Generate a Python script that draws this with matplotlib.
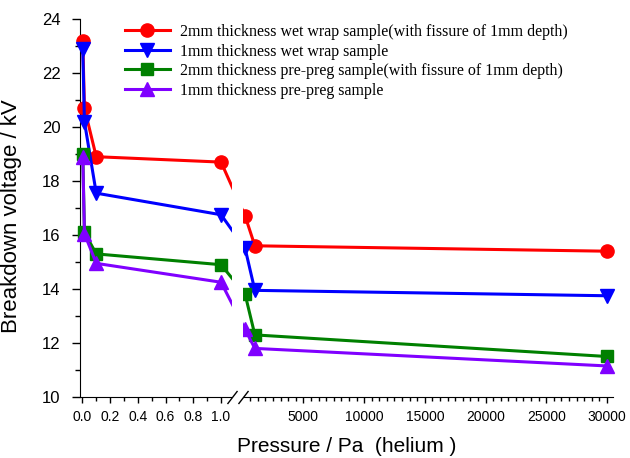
import numpy as np
import matplotlib
matplotlib.use('Agg')
import matplotlib.pyplot as plt
from matplotlib.patches import Rectangle
from matplotlib.ticker import FixedLocator, FixedFormatter

# data
pressure = [0.003, 0.015, 0.1, 1.0, 200, 1000, 30000]
wet_2mm = [23.2, 20.7, 18.9, 18.7, 16.7, 15.6, 15.4]
wet_1mm = [22.9, 20.2, 17.55, 16.75, 15.5, 13.95, 13.75]
preg_2mm = [19.0, 16.1, 15.3, 14.9, 13.8, 12.3, 11.5]
preg_1mm = [18.9, 16.05, 14.95, 14.25, 12.5, 11.8, 11.15]

labels = ['2mm thickness wet wrap sample(with fissure of 1mm depth)',
          '1mm thickness wet wrap sample',
          '2mm thickness pre-preg sample(with fissure of 1mm depth)',
          '1mm thickness pre-preg sample']

left_ticks = [0.0, 0.2, 0.4, 0.6, 0.8, 1.0]
right_ticks = [5000, 10000, 15000, 20000, 25000, 30000]

# broken x axis: linear 0..L1, then a gap, then linear from S2 on
L1 = 1.079
S2 = 50
GAP = 0.0815
K = 8.753e-5
xp = [-10, L1, S2, 1e6]
fp = [-10, L1, L1 + GAP, L1 + GAP + (1e6 - S2) * K]

def fwd(x):
    return np.interp(x, xp, fp)

def inv(x):
    return np.interp(x, fp, xp)

plt.rcParams['font.family'] = 'Liberation Sans'

fig = plt.figure(figsize=(6.3, 4.58), dpi=100)
ax = fig.add_axes([80/630, 1 - 397/458, 533/630, 378/458])
ax.set_xscale('function', functions=(fwd, inv))

series = [wet_2mm, wet_1mm, preg_2mm, preg_1mm]
colors = ['#ff0000', '#0000ff', '#008000', '#8000ff']
markers = ['o', 'v', 's', '^']
sizes = [9.5, 9.5, 8.5, 10]
for vals, c, m, ms, lab in zip(series, colors, markers, sizes, labels):
    ax.plot(pressure, vals, color=c, marker=m, markersize=ms, lw=2.2,
            label=lab, zorder=3, clip_on=False)

ax.set_xlim(-0.017, 30500)
ax.set_ylim(10, 24)

# hide the gap
ax.add_patch(Rectangle((L1, -0.01), S2 - L1, 1.02, transform=ax.get_xaxis_transform(),
                       facecolor='white', edgecolor='none', zorder=4, clip_on=False))
# break marks
ax.plot([L1, S2], [0, 0], transform=ax.get_xaxis_transform(), marker=[(-10, -13), (10, 13)],
        markersize=9.4, linestyle='none', color='k', mec='k', mew=1.0, clip_on=False, zorder=5)

ax.spines['top'].set_visible(False)
ax.spines['right'].set_visible(False)

major = left_ticks + right_ticks
ax.xaxis.set_major_locator(FixedLocator(major))
ax.xaxis.set_major_formatter(FixedFormatter(['%.1f' % t for t in left_ticks] + [str(t) for t in right_ticks]))
minor = [0.1, 0.3, 0.5, 0.7, 0.9] + [v for v in range(625, 30001, 625) if v % 5000 != 0]
ax.xaxis.set_minor_locator(FixedLocator(minor))
ax.set_yticks(range(10, 25, 2))
ax.set_yticks(range(11, 24, 2), minor=True)

ax.tick_params(axis='x', which='major', direction='out', length=4.5, width=1, labelsize=10, pad=5)
ax.tick_params(axis='x', which='minor', direction='out', length=3, width=1)
ax.tick_params(axis='y', which='major', direction='out', length=6, width=1, labelsize=12, pad=8)
ax.tick_params(axis='y', which='minor', direction='out', length=3.6, width=1)

ax.set_xlabel('Pressure / Pa  (helium )', fontsize=15, labelpad=9)
ax.set_ylabel('Breakdown voltage / kV', fontsize=16)
ax.yaxis.set_label_coords(-0.109, 0.4775)

ax.legend(loc='upper left', bbox_to_anchor=(125/630, 1 - 24/458), bbox_transform=fig.transFigure,
          frameon=False, prop={'family': 'Liberation Serif', 'size': 11.5}, handlelength=2.8,
          handletextpad=0.65, labelspacing=0.22, borderpad=0, borderaxespad=0)

fig.savefig('out.png', dpi=100)
